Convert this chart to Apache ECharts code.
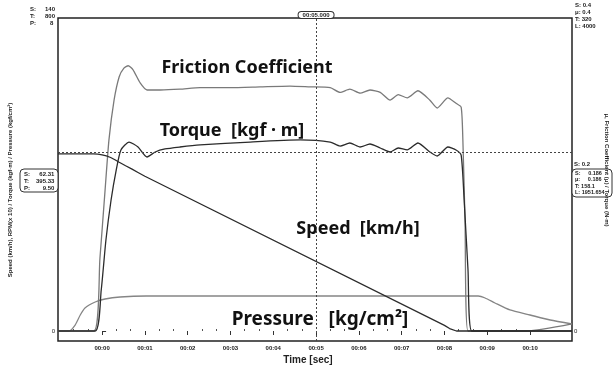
<!DOCTYPE html>
<html>
<head>
<meta charset="utf-8">
<script src="https://cdn.jsdelivr.net/npm/echarts@6/dist/echarts.min.js"></script>
<style>
  html, body { margin: 0; background: #fff; }
  #chart { width: 616px; height: 371px; }
</style>
</head>
<body>
<div id="chart"></div>
<script>
// time axis labels (seconds 0..10)
const timeTicks = [0, 1, 2, 3, 4, 5, 6, 7, 8, 9, 10]
const timeLabels = ['00:00', '00:01', '00:02', '00:03', '00:04', '00:05', '00:06', '00:07', '00:08', '00:09', '00:10']

// friction coefficient (mu)
const frictionT = [-1.03, -0.19, -0.05, 0.07, 0.16, 0.28, 0.40, 0.51, 0.61, 0.72, 0.89, 1.05, 1.36, 1.82, 2.29, 2.99, 3.69, 4.39, 4.86, 5.33, 5.56, 5.79, 6.03, 6.26, 6.50, 6.73, 6.92, 7.13, 7.38, 7.66, 7.83, 8.08, 8.27, 8.39, 8.43, 8.48, 8.55, 9.93, 10.98]
const frictionV = [0, 0, 0.093, 0.180, 0.244, 0.295, 0.325, 0.336, 0.339, 0.334, 0.317, 0.308, 0.308, 0.309, 0.311, 0.311, 0.312, 0.313, 0.312, 0.311, 0.305, 0.309, 0.304, 0.308, 0.305, 0.295, 0.302, 0.298, 0.307, 0.295, 0.285, 0.298, 0.291, 0.286, 0.244, 0.142, 0, 0, 0.009]

// torque (kgf·m)
const torqueT = [-1.03, -0.16, -0.02, 0.09, 0.21, 0.33, 0.44, 0.63, 0.84, 1.05, 1.24, 1.47, 1.82, 2.29, 3.46, 4.63, 5.33, 5.56, 5.79, 6.03, 6.26, 6.50, 6.73, 6.92, 7.13, 7.38, 7.66, 7.83, 8.08, 8.27, 8.39, 8.46, 8.55, 8.64, 10.98]
const torqueV = [0, 0, 41.9, 93.0, 133.9, 164.6, 185.1, 193.2, 188.1, 177.9, 183.0, 186.1, 188.1, 190.2, 193.2, 195.3, 193.2, 189.1, 192.2, 188.1, 191.2, 187.1, 183.0, 187.1, 185.1, 192.2, 183.0, 178.9, 188.1, 185.1, 179.9, 133.9, 62.4, 0, 0]

// speed (km/h)
const speedT = [-1.03, -0.2, -0.1, 0, 0.1, 0.2, 0.3, 0.4, 0.55, 0.7, 0.85, 1.0, 8.0, 8.12, 8.28, 10.98]
const speedV = [79.2, 79.2, 79.1, 78.8, 78.3, 77.6, 76.6, 75.5, 73.9, 72.4, 70.8, 69.2, 2.5, 1.1, 0, 0]

// pressure (kg/cm²)
const pressureT = [-1.03, -0.77, -0.63, -0.51, -0.40, -0.16, 0.07, 0.42, 1.03, 8.79, 8.95, 9.18, 9.53, 10.0, 10.47, 10.98]
const pressureV = [0, 0, 1.53, 4.09, 5.88, 7.41, 8.18, 8.69, 8.95, 8.95, 8.43, 7.16, 5.37, 4.09, 2.81, 1.79]

const cursorTime = 5
const cursorSpeed = 80

function pairs(ts, vs) {
  return ts.map((t, i) => [t, vs[i]])
}

// zero sits 10px above the frame bottom (plot height 323px)
function lowFor(max) {
  return -max * 10 / 313
}

const smallFont = { fontSize: 6, fontFamily: 'Liberation Sans', fontWeight: 'bold', fill: '#222' }
const bigFont = { fontSize: 18, fontFamily: 'Noto Sans', fontWeight: 'bold', fill: '#111', align: 'center', verticalAlign: 'middle' }

function lineSeries(name, ts, vs, axis, color, smooth) {
  return {
    name: name,
    type: 'line',
    yAxisIndex: axis,
    data: pairs(ts, vs),
    showSymbol: false,
    smooth: smooth,
    lineStyle: { color: color, width: 1.3 },
    z: 3
  }
}

function bigText(text, x, y, size) {
  return { type: 'text', x: x, y: y, style: Object.assign({ text: text }, bigFont, size ? { fontSize: size } : {}) }
}

const chart = echarts.init(document.getElementById('chart'))

const speed = lineSeries('Speed', speedT, speedV, 0, '#2b2b2b', false)
speed.markLine = {
  silent: true,
  symbol: 'none',
  lineStyle: { color: '#444', type: [2, 2], width: 1 },
  label: { show: false },
  data: [
    {
      xAxis: cursorTime,
      label: {
        show: true,
        position: 'end',
        distance: 0,
        formatter: '00:05.000',
        fontSize: 6,
        fontWeight: 'bold',
        color: '#222',
        backgroundColor: '#fff',
        borderColor: '#333',
        borderWidth: 1,
        borderRadius: 4,
        padding: [0, 4]
      }
    },
    { yAxis: cursorSpeed }
  ]
}

const option = {
  animation: false,
  backgroundColor: '#fff',
  grid: { left: 58, right: 44, top: 18, bottom: 30, show: true, borderColor: '#222', borderWidth: 1.5 },
  xAxis: [
    {
      type: 'value',
      min: -1.03,
      max: 10.98,
      axisLine: { show: false },
      splitLine: { show: false },
      axisTick: { show: true, customValues: timeTicks, length: 4, lineStyle: { color: '#333' } },
      axisLabel: {
        customValues: timeTicks,
        formatter: v => timeLabels[Math.round(v)],
        fontSize: 6,
        fontWeight: 'bold',
        color: '#222',
        margin: 4
      }
    },
    {
      type: 'value',
      min: -1.03,
      max: 10.98,
      axisLine: { show: false },
      splitLine: { show: false },
      axisLabel: { show: false },
      axisTick: {
        show: true,
        customValues: timeTicks.flatMap(t => [t - 2 / 3, t - 1 / 3]).filter(t => t > -1.03),
        length: 2,
        lineStyle: { color: '#555' }
      }
    }
  ],
  yAxis: [
    {
      type: 'value', position: 'left', min: lowFor(140), max: 140,
      axisLine: { show: false }, splitLine: { show: false }, axisTick: { show: false },
      axisLabel: { customValues: [0], fontSize: 6, color: '#222', margin: 3 }
    },
    {
      type: 'value', position: 'right', min: lowFor(0.4), max: 0.4,
      axisLine: { show: false }, splitLine: { show: false },
      axisTick: { show: true, customValues: [0], length: 4, lineStyle: { color: '#333' } },
      axisLabel: { customValues: [0], fontSize: 6, color: '#222', margin: 2 }
    },
    { type: 'value', show: false, min: lowFor(320), max: 320 },
    { type: 'value', show: false, min: lowFor(80), max: 80 }
  ],
  series: [
    lineSeries('Pressure', pressureT, pressureV, 3, '#858585', 0.2),
    lineSeries('Friction Coefficient', frictionT, frictionV, 1, '#7a7a7a', 0.2),
    lineSeries('Torque', torqueT, torqueV, 2, '#2b2b2b', 0.2),
    speed
  ],
  graphic: [
    bigText('Friction Coefficient', 247, 68),
    bigText('Torque  [kgf · m]', 232, 131),
    bigText('Speed  [km/h]', 358, 229),
    bigText('Pressure   [kg/cm²]', 320, 320, 19),
    { type: 'text', left: 'center', top: 355, style: { text: 'Time [sec]', fontSize: 10, fontWeight: 'bold', fontFamily: 'Liberation Sans', fill: '#222' } },
    // left corner scale
    { type: 'text', left: 30, top: 6, style: Object.assign({ text: 'S:\nT:\nP:', lineHeight: 7 }, smallFont) },
    { type: 'text', left: 45, top: 6, style: Object.assign({ text: '140\n800\n   8', lineHeight: 7 }, smallFont) },
    // right corner scale
    { type: 'text', left: 575, top: 2, style: Object.assign({ text: 'S: 0.4\nμ: 0.4\nT: 320\nL: 4000', lineHeight: 7 }, smallFont) },
    // left readout box
    { type: 'rect', shape: { x: 20, y: 169, width: 38, height: 23, r: 4 }, style: { fill: '#fff', stroke: '#333', lineWidth: 1 } },
    { type: 'text', left: 24, top: 171, style: Object.assign({ text: 'S:\nT:\nP:', lineHeight: 7 }, smallFont) },
    { type: 'text', left: 36, top: 171, style: Object.assign({ text: '  62.31\n395.33\n    9.50', lineHeight: 7 }, smallFont) },
    // right readout box
    { type: 'text', left: 574, top: 161, style: Object.assign({ text: 'S: 0.2' }, smallFont) },
    { type: 'rect', shape: { x: 572, y: 169, width: 40, height: 28, r: 4 }, style: { fill: '#fff', stroke: '#333', lineWidth: 1 } },
    { type: 'text', left: 575, top: 170, style: Object.assign({ text: 'S:     0.186\nμ:     0.186\nT: 158.1\nL: 1951.654', lineHeight: 6.5 }, smallFont, { fontSize: 5.5 }) },
    // axis titles
    {
      type: 'text', x: 10, y: 190, rotation: Math.PI / 2,
      style: Object.assign({ text: 'Speed (km/h), RPM(x 10) / Torque (kgf·m) / Pressure (kgf/cm²)', align: 'center', verticalAlign: 'middle' }, smallFont)
    },
    {
      type: 'text', x: 607, y: 170, rotation: -Math.PI / 2,
      style: Object.assign({ text: 'μ, Friction Coefficient (μ) / Torque (N·m)', align: 'center', verticalAlign: 'middle' }, smallFont)
    }
  ]
}

chart.setOption(option)
</script>
</body>
</html>
